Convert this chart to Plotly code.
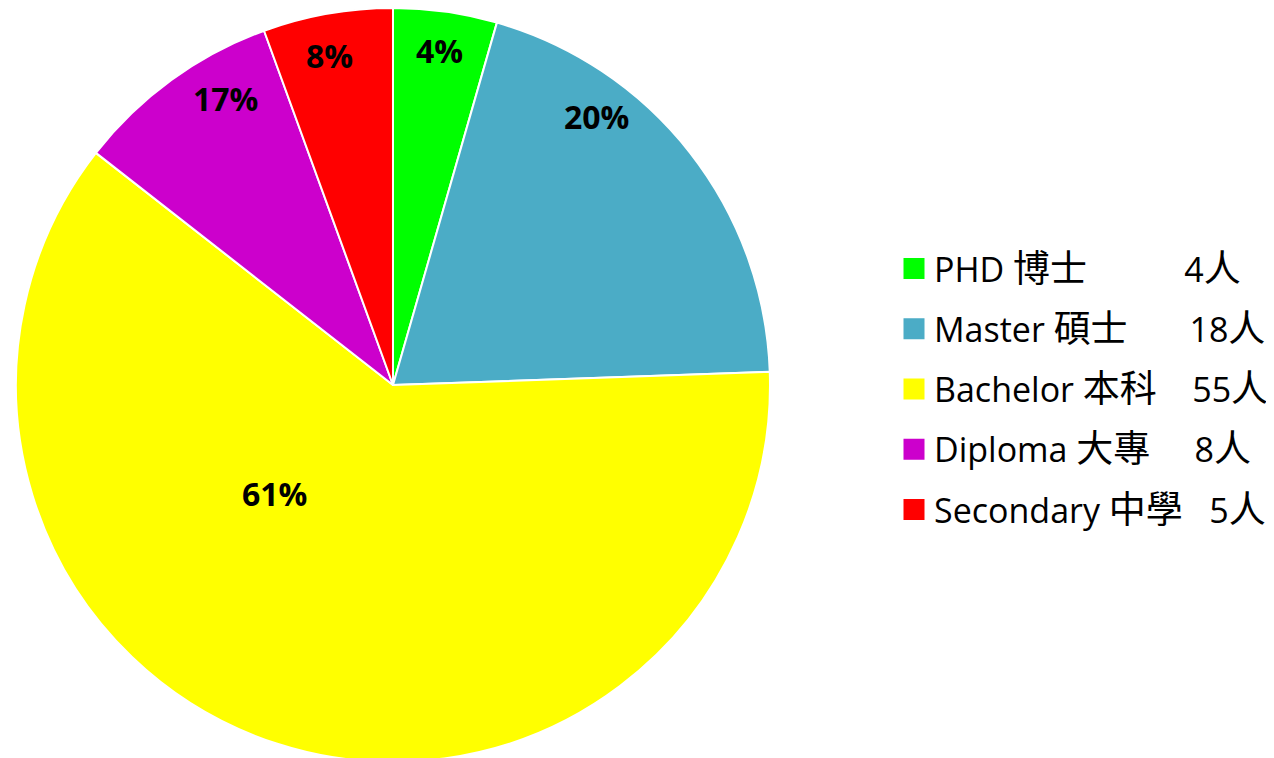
import math
import plotly.graph_objects as go

# ---- data ----
names_en = ["PHD", "Master", "Bachelor", "Diploma", "Secondary"]
names_zh = ["博士", "碩士", "本科", "大專", "中學"]
counts = [4, 18, 55, 8, 5]
count_labels = ["4人", "18人", "55人", "8人", "5人"]
slice_text = ["4%", "20%", "61%", "17%", "8%"]

# ---- style / layout ----
colors = ["#00FF00", "#4BACC6", "#FFFF00", "#CC00CC", "#FF0000"]
legend_pad = [11, 7, 4, 5, 3]          # spaces before the head count in the legend
label_angle_shift = [0, -14.6, 29, 5.5, -1]   # degrees, relative to slice middle
label_radius_frac = [0.89, 0.89, 0.43, 0.875, 0.885]

W, H = 1274, 758
OFF = 8                      # page body margin around the plot div
CX, CY, R = 393 - OFF, 385 - OFF, 377

LATIN = "'Open Sans', 'Noto Sans', sans-serif"
CJK = "'Noto Sans CJK TC'"
NB = "\u00a0"

legend_names = [
    f"{en} <span style=\"font-family:{CJK};font-size:37px\">{zh}</span>{NB * p}{n[:-1]}"
    f"<span style=\"font-family:{CJK};font-size:37px\">{n[-1]}</span>"
    for en, zh, p, n in zip(names_en, names_zh, legend_pad, count_labels)
]
categories = [f"{en} {zh}" for en, zh in zip(names_en, names_zh)]

fig = go.Figure()
fig.add_trace(go.Pie(
    labels=categories,
    values=counts,
    textinfo="none",
    sort=False,
    direction="clockwise",
    rotation=0,
    marker=dict(colors=colors, line=dict(color="white", width=2)),
    showlegend=False,
    domain=dict(x=[0, 2 * CX / W], y=[1 - (CY + R) / H, 1 - (CY - R) / H]),
    hoverinfo="label+value",
))

for i, (name, col) in enumerate(zip(legend_names, colors)):
    fig.add_trace(go.Scatter(
        x=[None], y=[None], mode="markers", name=name,
        legendgroup=f"g{i}",
        marker=dict(symbol="square", size=16, color=col, line=dict(color=col, width=5)),
        showlegend=True, hoverinfo="skip",
    ))

# percentage labels placed from the slice angles
total = sum(counts)
cum = 0
annotations = []
for i, c in enumerate(counts):
    mid = (cum + c / 2) / total * 360 + label_angle_shift[i]
    cum += c
    d = label_radius_frac[i] * R
    sx = CX + d * math.sin(math.radians(mid))
    sy = CY - d * math.cos(math.radians(mid))
    annotations.append(dict(
        x=sx / W, y=1 - sy / H, xref="paper", yref="paper",
        text=f"<b>{slice_text[i]}</b>", showarrow=False,
        xanchor="center", yanchor="middle", yshift=2,
        font=dict(family=LATIN, size=32, color="black"),
    ))

fig.update_layout(
    width=W, height=H,
    margin=dict(l=0, r=0, t=0, b=0),
    paper_bgcolor="white", plot_bgcolor="white",
    xaxis=dict(visible=False), yaxis=dict(visible=False),
    annotations=annotations,
    legend=dict(
        x=886 / W, xanchor="left", y=1 - (389 - OFF) / H, yanchor="middle",
        font=dict(family=LATIN, size=34, color="black"),
        tracegroupgap=13, itemsizing="trace",
        bgcolor="rgba(0,0,0,0)",
    ),
)

fig.write_html("out.html")
